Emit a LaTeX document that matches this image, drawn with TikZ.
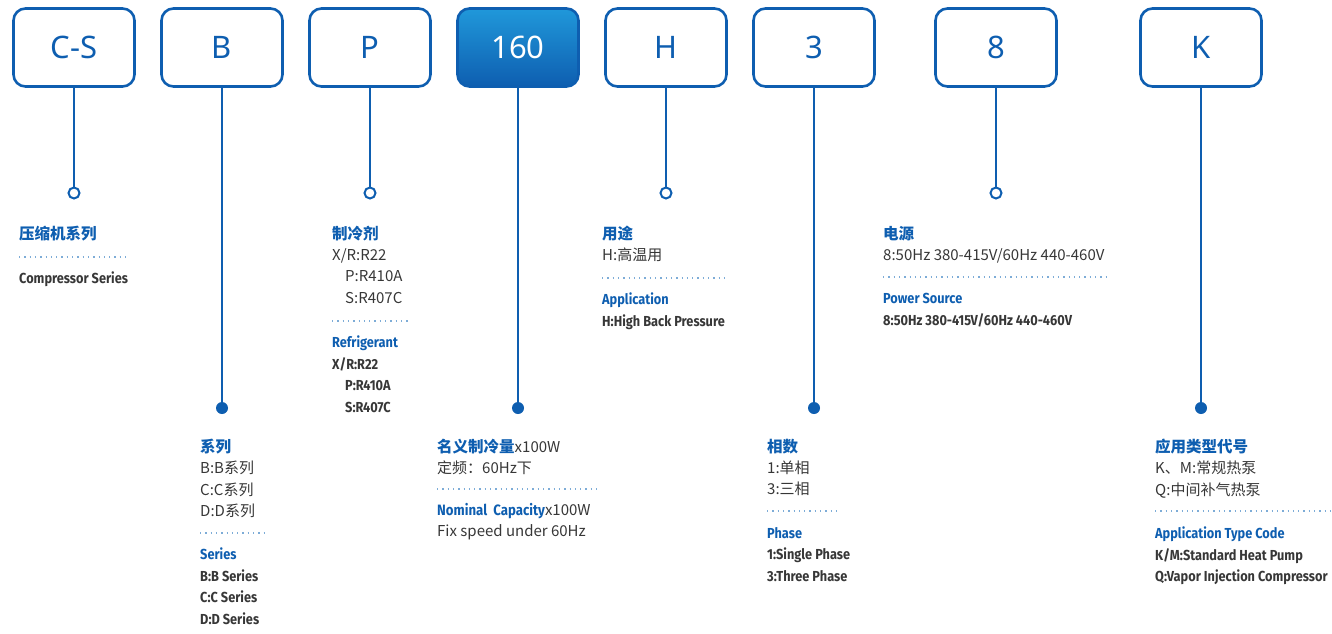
\documentclass[tikz,border=0pt]{standalone}
\usepackage{fontspec}
\usepackage{xcolor}
\usepackage{tikz}
\setmainfont{Noto Sans CJK SC}
\newfontfamily\condfont[FakeStretch=0.88]{Fira Sans}
\newfontfamily\boxfont{Noto Sans}

\definecolor{codeblue}{RGB}{14,94,176}
\definecolor{topblue}{RGB}{32,152,218}
\definecolor{txtgray}{RGB}{55,55,55}
\definecolor{dotblue}{RGB}{125,172,215}

\tikzset{
  codebox/.style={draw=codeblue,line width=2.6pt,rounded corners=12pt,minimum width=121pt,minimum height=78pt,text=codeblue,font=\boxfont\fontsize{31}{31}\selectfont},
  opendot/.style={circle,draw=codeblue,line width=2pt,fill=white,minimum size=11pt,inner sep=0pt},
  fulldot/.style={circle,fill=codeblue,minimum size=12pt,inner sep=0pt},
  lead/.style={codeblue,line width=2.4pt},
  sepline/.style={dotblue,line width=1.3pt,dash pattern=on 1.3pt off 4pt},
  cnblock/.style={anchor=north west,inner sep=0pt,align=left,text=txtgray,font=\fontsize{15}{21.2}\selectfont},
  enblock/.style={anchor=north west,inner sep=0pt,align=left,text=txtgray,font=\condfont\bfseries\fontsize{14.5}{21.5}\selectfont}
}
\newcommand{\hd}[1]{{\color{codeblue}\bfseries\fontsize{15.5}{21.2}\selectfont #1}}

\begin{document}
\begin{tikzpicture}[x=1pt,y=-1pt]
	\useasboundingbox (0,0) rectangle (1332,633);

	% code boxes
	\node[codebox] (cs) at (74,47.5) {C-S};
	\node[codebox] (b) at (222,47.5) {B};
	\node[codebox] (p) at (370,47.5) {P};
	\node[codebox,top color=topblue,bottom color=codeblue,text=white] (cap) at (518,47.5) {160};
	\node[codebox] (h) at (666,47.5) {H};
	\node[codebox] (ph) at (814,47.5) {3};
	\node[codebox] (pw) at (996,47.5) {8};
	\node[codebox] (k) at (1201,47.5) {K};

	% end dots
	\node[opendot] (csdot) at (74,193) {};
	\node[fulldot] (bdot) at (222,408) {};
	\node[opendot] (pdot) at (370,193) {};
	\node[fulldot] (capdot) at (518,408) {};
	\node[opendot] (hdot) at (666,193) {};
	\node[fulldot] (phdot) at (814,408) {};
	\node[opendot] (pwdot) at (996,193) {};
	\node[fulldot] (kdot) at (1201,408) {};

	\draw[lead] (cs) -- (csdot);
	\draw[lead] (b) -- (bdot);
	\draw[lead] (p) -- (pdot);
	\draw[lead] (cap) -- (capdot);
	\draw[lead] (h) -- (hdot);
	\draw[lead] (ph) -- (phdot);
	\draw[lead] (pw) -- (pwdot);
	\draw[lead] (k) -- (kdot);

	% upper row of texts
	\node[cnblock] (cstxt) at (19,226) {\hd{压缩机系列}};
	\draw[sepline] (19,257) -- (130,257);
	\node[enblock] (csen) at (19,272) {Compressor Series};

	\node[cnblock] (ptxt) at (332,226) {\hd{制冷剂}\\X/R:R22\\\hspace*{13pt}P:R410A\\\hspace*{13pt}S:R407C};
	\draw[sepline] (332,321) -- (408,321);
	\node[enblock] (pen) at (332,336) {{\color{codeblue}Refrigerant}\\X/R:R22\\\hspace*{13pt}P:R410A\\\hspace*{13pt}S:R407C};

	\node[cnblock] (htxt) at (602,226) {\hd{用途}\\H:高温用};
	\draw[sepline] (602,278) -- (728,278);
	\node[enblock] (hen) at (602,293) {{\color{codeblue}Application}\\H:High Back Pressure};

	\node[cnblock] (pwtxt) at (883,226) {\hd{电源}\\8:50Hz 380-415V/60Hz 440-460V};
	\draw[sepline] (883,277) -- (1110,277);
	\node[enblock] (pwen) at (883,293) {{\color{codeblue}Power Source}\\8:50Hz 380-415V/60Hz 440-460V};

	% lower row of texts
	\node[cnblock] (btxt) at (200,439) {\hd{系列}\\B:B系列\\C:C系列\\D:D系列};
	\draw[sepline] (200,533) -- (265,533);
	\node[enblock] (ben) at (200,548) {{\color{codeblue}Series}\\B:B Series\\C:C Series\\D:D Series};

	\node[cnblock] (captxt) at (437,439) {\hd{名义制冷量}x100W\\定频：60Hz下};
	\draw[sepline] (437,489) -- (598,489);
	\node[cnblock] (capen) at (437,503) {{\condfont\bfseries\color{codeblue}Nominal\ \ Capacity}x100W\\Fix speed under 60Hz};

	\node[cnblock] (phtxt) at (767,439) {\hd{相数}\\1:单相\\3:三相};
	\draw[sepline] (767,511) -- (838,511);
	\node[enblock] (phen) at (767,527) {{\color{codeblue}Phase}\\1:Single Phase\\3:Three Phase};

	\node[cnblock] (ktxt) at (1155,439) {\hd{应用类型代号}\\K、M:常规热泵\\Q:中间补气热泵};
	\draw[sepline] (1155,511) -- (1330,511);
	\node[enblock] (ken) at (1155,527) {{\color{codeblue}Application Type Code}\\K/M:Standard Heat Pump\\Q:Vapor Injection Compressor};
\end{tikzpicture}
\end{document}
